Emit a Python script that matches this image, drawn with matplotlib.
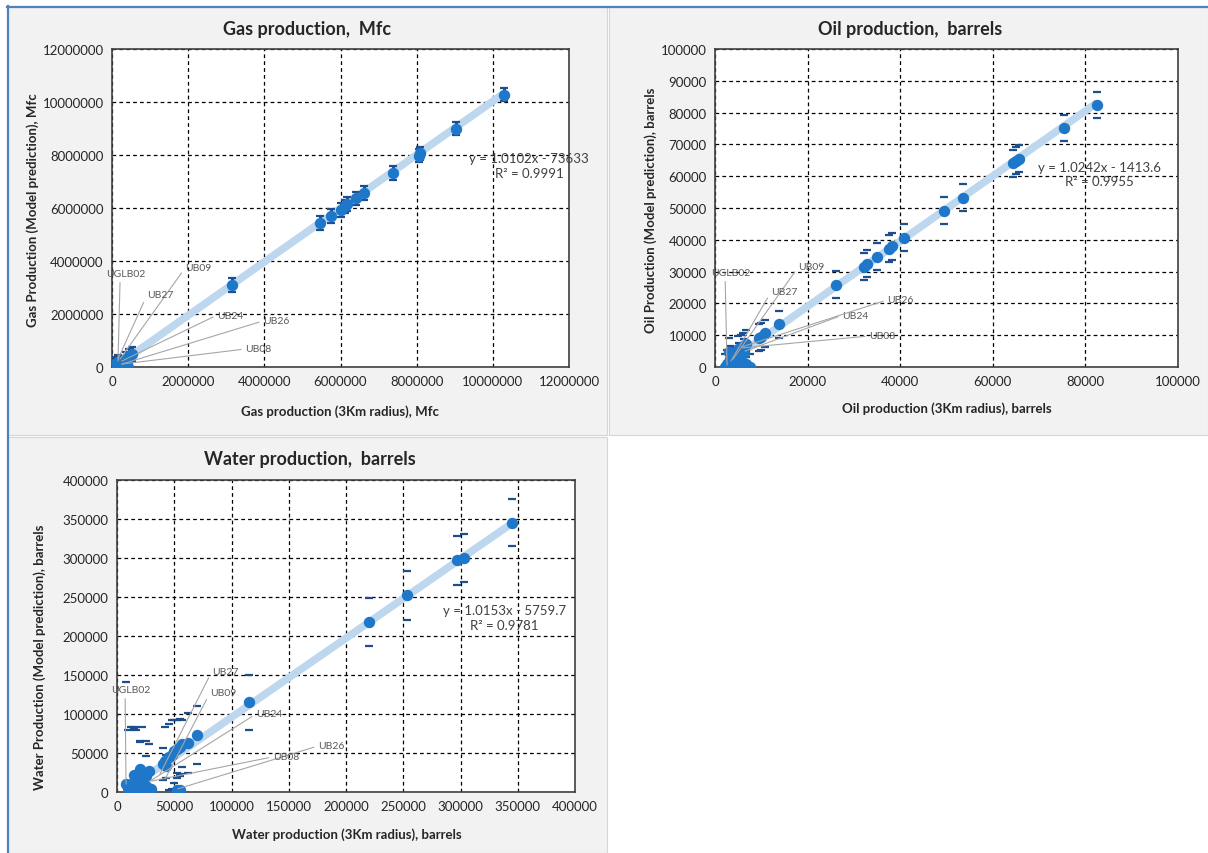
import matplotlib
matplotlib.use("Agg")
import matplotlib.pyplot as plt
from matplotlib.patches import Rectangle
from matplotlib.lines import Line2D

plt.rcParams['font.family'] = ['Lato', 'DejaVu Sans']

# ---------------- data ----------------
gas_actual = [10300000, 9020000, 8080000, 8060000, 7380000, 6620000, 6400000, 6170000, 6120000,
              6000000, 5760000, 5460000, 3150000, 520000, 450000, 380000, 300000, 250000, 200000,
              150000, 120000, 100000, 350000, 420000, 80000]
gas_pred = [10280000, 9000000, 8060000, 7980000, 7320000, 6580000, 6360000, 6160000, 6060000,
            5920000, 5700000, 5440000, 3100000, 480000, 420000, 300000, 150000, 80000, 30000,
            200000, 60000, 10000, 20000, 10000, 120000]
gas_err = 260000
gas_fit = (1.0102, -73633)
gas_eq = "y = 1.0102x - 73633\nR² = 0.9991"

oil_actual = [82500, 75300, 65600, 65000, 64300, 53600, 49400, 40800, 38300, 37600, 35000, 32800,
              32100, 26200, 13800, 10800, 9900, 9400, 6600, 6100, 5600, 4900, 6300, 5100, 3000,
              3300, 2600, 2200, 2900, 3600, 4600, 5600, 6600, 7600, 4100]
oil_pred = [82400, 75200, 65500, 64900, 64100, 53300, 49200, 40700, 38000, 37200, 34700, 32500,
            31500, 25900, 13400, 10600, 9500, 9200, 7300, 6500, 6000, 5600, 4500, 3500, 4800,
            2500, 1000, 0, 0, 200, 0, 100, 800, 0, 2000]
oil_err = 4200
oil_fit = (1.0242, -1413.6)
oil_eq = "y = 1.0242x - 1413.6\nR² = 0.9955"

water_actual = [345000, 303000, 297000, 253000, 220000, 115000, 70000, 62000, 57000, 55000, 52000,
                50000, 48000, 45000, 42000, 40000, 43000, 55000, 52000, 30000, 28000, 25000, 20000,
                17000, 15000, 12000, 8000, 10000, 15000, 22000, 20000, 25000]
water_pred = [345000, 300000, 297000, 252000, 218000, 115000, 73000, 63000, 62000, 58000, 55000,
              52000, 48000, 45000, 40000, 36000, 33000, 2000, 3000, 4000, 27000, 20000, 30000,
              18000, 22000, 10000, 10000, 5000, 2000, 5000, 12000, 8000]
water_err = [30000, 31000, 31000, 31000, 31000, 35000, 37000, 38000, 30000, 35000, 37000,
             40000, 44000, 42000, 43000, 20000, 15000, 18000, 22000, 20000, 34500, 45000, 35000,
             62000, 61000, 73000, 131000, 75000, 80000, 78000, 52000, 38000]
water_fit = (1.0153, -5759.7)
water_eq = "y = 1.0153x - 5759.7\nR² = 0.9781"

well_labels = ['UGLB02', 'UB09', 'UB27', 'UB24', 'UB26', 'UB08']
gas_label_x = [368000, 1920000, 920000, 2760000, 3970000, 3500000]
gas_label_y = [3510000, 3740000, 2720000, 1960000, 1740000, 680000]
gas_target_x = [158000, 210000, 158000, 260000, 260000, 260000]
gas_target_y = [226000, 300000, 300000, 226000, 110000, 110000]

oil_label_x = [3460, 18000, 12100, 27500, 37200, 33300]
oil_label_y = [29600, 31450, 23600, 16300, 21100, 9750]
oil_target_x = [2600, 3900, 3460, 6500, 5800, 5800]
oil_target_y = [600, 2500, 1900, 5000, 6300, 6000]

water_label_x = [12200, 81200, 83000, 121400, 175500, 136000]
water_label_y = [130800, 127000, 155000, 100000, 59000, 45000]
water_target_x = [7900, 42000, 37500, 28800, 53000, 30000]
water_target_y = [10000, 16700, 23000, 14000, 4000, 14000]

# ---------------- styling ----------------
W, H = 1208, 854
fig = plt.figure(figsize=(W / 100, H / 100), dpi=100)
fig.patch.set_facecolor('white')

PANEL = '#f2f2f2'
MARK = '#1f77c9'
CAPC = '#1f4e8c'
TREND = '#bdd7ee'
TXT = '#262626'


def fx(px):
    return px / W


def fy(py):
    return 1 - py / H


def panel(x0, y0, x1, y1):
    fig.patches.append(Rectangle((fx(x0), fy(y1)), fx(x1) - fx(x0), fy(y0) - fy(y1),
                                 transform=fig.transFigure, facecolor=PANEL,
                                 edgecolor='#d6d6d6', lw=0.8, zorder=-10))


panel(8, 8, 607, 436)
panel(609, 8, 1208, 436)
panel(8, 438, 607, 854)

# blue outer border
fig.lines.append(Line2D([fx(7), fx(1208)], [fy(8), fy(8)], transform=fig.transFigure,
                        color='#4f81bd', lw=1.6, zorder=-5))
fig.lines.append(Line2D([fx(8), fx(8)], [fy(7), fy(854)], transform=fig.transFigure,
                        color='#4f81bd', lw=1.6, zorder=-5))


def make_axes(x0, y0, x1, y1):
    ax = fig.add_axes([fx(x0), fy(y1), fx(x1) - fx(x0), fy(y0) - fy(y1)])
    ax.set_facecolor('white')
    for s in ax.spines.values():
        s.set_color('#404040')
        s.set_linewidth(1.2)
    ax.grid(True, color='black', linestyle=(0, (3, 2.5)), linewidth=0.9)
    ax.tick_params(length=0, labelsize=9.5, labelcolor=TXT, pad=6)
    ax.set_axisbelow(True)
    return ax


def draw(ax, xs, ys, err, fit, eq, eqpos, lab_x, lab_y, tgt_x, tgt_y, lim, step,
         elw, title, title_pos, xlabel, xlabel_pos, ylabel, ylabel_pos, uglb_relpos):
    ax.set_xlim(0, lim)
    ax.set_ylim(0, lim)
    ticks = list(range(0, lim + 1, step))
    ax.set_xticks(ticks)
    ax.set_yticks(ticks)
    ax.set_xticklabels([str(t) for t in ticks])
    ax.set_yticklabels([str(t) for t in ticks])
    a, b = fit
    x0, x1 = min(xs), max(xs)
    ax.plot([x0, x1], [a * x0 + b, a * x1 + b], color=TREND, lw=5.5, solid_capstyle='butt',
            zorder=2)
    ax.errorbar(xs, ys, yerr=err, fmt='none', ecolor=CAPC, elinewidth=elw, capsize=3.2,
                capthick=1.6, zorder=3, clip_on=True)
    ax.plot(xs, ys, 'o', color=MARK, markersize=8.2, markeredgewidth=0, zorder=4)
    ax.text(eqpos[0], eqpos[1], eq, transform=ax.transData, ha='center', va='center',
            fontsize=9.5, color='#404040', linespacing=1.25, zorder=6)
    for i, name in enumerate(well_labels):
        if i == 0:
            ha, rel = 'center', uglb_relpos
        else:
            ha, rel = 'left', (0, 0.5)
        ax.annotate(name, xy=(tgt_x[i], tgt_y[i]), xytext=(lab_x[i], lab_y[i]),
                    textcoords='data', ha=ha, va='center', fontsize=7.5, color='#595959',
                    arrowprops=dict(arrowstyle='-', color='#a6a6a6', lw=0.8,
                                    shrinkA=1, shrinkB=0, relpos=rel),
                    annotation_clip=False, zorder=5)
    fig.text(fx(title_pos[0]), fy(title_pos[1]), title, ha='center', va='center',
             fontsize=13, fontweight='bold', color=TXT)
    fig.text(fx(xlabel_pos[0]), fy(xlabel_pos[1]), xlabel, ha='center', va='center',
             fontsize=9.5, fontweight='bold', color=TXT)
    fig.text(fx(ylabel_pos[0]), fy(ylabel_pos[1]), ylabel, ha='center', va='center',
             rotation=90, fontsize=9.5, fontweight='bold', color=TXT)


ax_gas = make_axes(112, 50, 569, 368)
draw(ax_gas, gas_actual, gas_pred, gas_err, gas_fit, gas_eq, (10950000, 7600000),
     gas_label_x, gas_label_y, gas_target_x, gas_target_y, 12000000, 2000000, 2.2,
     'Gas production,  Mfc', (307, 30), 'Gas production (3Km radius), Mfc', (340, 412),
     'Gas Production (Model prediction), Mfc', (33, 210), (0.35, 0))

ax_oil = make_axes(715, 50, 1178, 368)
draw(ax_oil, oil_actual, oil_pred, oil_err, oil_fit, oil_eq, (83000, 60700),
     oil_label_x, oil_label_y, oil_target_x, oil_target_y, 100000, 10000, 0,
     'Oil production,  barrels', (910, 30), 'Oil production (3Km radius), barrels', (947, 409),
     'Oil Production (Model prediction), barrels', (651, 210), (0.35, 0))
ax_oil.set_xticks(list(range(0, 100001, 20000)))
ax_oil.set_xticklabels([str(t) for t in range(0, 100001, 20000)])

ax_wat = make_axes(117, 481, 575, 793)
draw(ax_wat, water_actual, water_pred, water_err, water_fit, water_eq, (338000, 224000),
     water_label_x, water_label_y, water_target_x, water_target_y, 400000, 50000, 0,
     'Water production,  barrels', (310, 460), 'Water production (3Km radius), barrels',
     (347, 835), 'Water Production (Model prediction), barrels', (40, 657), (0.35, 0))

fig.savefig('out.png', dpi=100)
